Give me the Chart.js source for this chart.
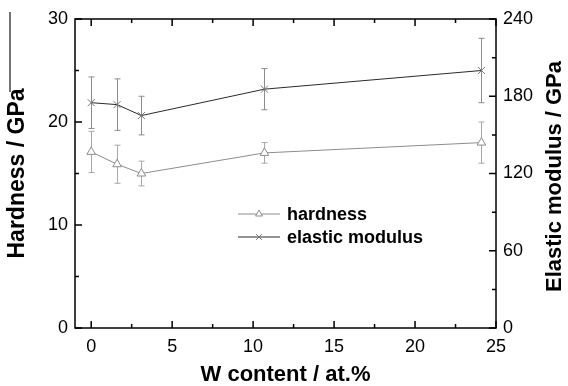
<!DOCTYPE html>
<html>
<head>
<meta charset="utf-8">
<script src="https://cdn.jsdelivr.net/npm/chart.js@4/dist/chart.umd.min.js"></script>
<style>
  html, body { margin: 0; padding: 0; background: #fff; }
  #wrap { width: 568px; height: 386px; }
</style>
</head>
<body>
<div id="wrap"><canvas id="chart"></canvas></div>
<script>
// W content (at.%)
var wContent = [0, 1.6, 3.1, 10.7, 24.1];
// hardness (GPa) and error
var hardness = [17.1, 15.9, 15.0, 17.0, 18.0];
var hardnessErr = [2.0, 1.85, 1.2, 1.0, 2.0];
// elastic modulus (GPa) and error
var modulus = [175, 173.5, 165, 185.5, 200];
var modulusErr = [20, 20, 15, 16, 25];

var xTicks = [0, 5, 10, 15, 20, 25];
var xMinor = [2.5, 7.5, 12.5, 17.5, 22.5];
var yTicks = [0, 10, 20, 30];
var yMinor = [5, 15, 25];
var y2Ticks = [0, 60, 120, 180, 240];
var y2Minor = [30, 90, 150, 210];

var FONT = "'Liberation Sans', Arial, sans-serif";

function toPoints(xs, ys) {
  return xs.map(function (x, i) { return { x: x, y: ys[i] }; });
}

function fixTicks(values) {
  return function (scale) {
    scale.ticks = values.map(function (v) { return { value: v }; });
  };
}

// error bars, drawn under the lines
var errorBars = {
  id: 'errorBars',
  beforeDatasetsDraw: function (chart) {
    var ctx = chart.ctx;
    var xs = chart.scales.x;
    chart.data.datasets.forEach(function (ds) {
      var ys = chart.scales[ds.yAxisID];
      ctx.save();
      ctx.strokeStyle = ds.errColor;
      ctx.lineWidth = 1;
      ds.data.forEach(function (p, i) {
        var px = Math.round(xs.getPixelForValue(p.x)) + 0.5;
        var top = ys.getPixelForValue(p.y + ds.err[i]);
        var bot = ys.getPixelForValue(p.y - ds.err[i]);
        ctx.beginPath();
        ctx.moveTo(px, top); ctx.lineTo(px, bot);
        ctx.moveTo(px - 3, top); ctx.lineTo(px + 3, top);
        ctx.moveTo(px - 3, bot); ctx.lineTo(px + 3, bot);
        ctx.stroke();
      });
      ctx.restore();
    });
  }
};

// box frame with inward ticks, right title, legend
var frame = {
  id: 'frame',
  afterDraw: function (chart) {
    var ctx = chart.ctx;
    var a = chart.chartArea;
    var xs = chart.scales.x, yl = chart.scales.y, yr = chart.scales.y2;
    ctx.save();
    ctx.strokeStyle = '#000';
    ctx.lineWidth = 1.5;
    ctx.strokeRect(a.left, a.top, a.right - a.left, a.bottom - a.top);

    ctx.beginPath();
    function hTick(vals, len) {
      vals.forEach(function (v) {
        var px = xs.getPixelForValue(v);
        ctx.moveTo(px, a.bottom); ctx.lineTo(px, a.bottom - len);
        ctx.moveTo(px, a.top); ctx.lineTo(px, a.top + len);
      });
    }
    function vTick(scale, vals, len, right) {
      vals.forEach(function (v) {
        var py = scale.getPixelForValue(v);
        if (right) { ctx.moveTo(a.right, py); ctx.lineTo(a.right - len, py); }
        else { ctx.moveTo(a.left, py); ctx.lineTo(a.left + len, py); }
      });
    }
    hTick(xTicks, 7); hTick(xMinor, 4);
    vTick(yl, yTicks, 7, false); vTick(yl, yMinor, 4, false);
    vTick(yr, y2Ticks, 7, true); vTick(yr, y2Minor, 4, true);
    ctx.stroke();

    // right axis title, reading bottom to top
    ctx.fillStyle = '#000';
    ctx.font = 'bold 22px ' + FONT;
    ctx.textAlign = 'center';
    ctx.textBaseline = 'middle';
    ctx.translate(555, (a.top + a.bottom) / 2 + 3);
    ctx.rotate(-Math.PI / 2);
    ctx.fillText('Elastic modulus / GPa', 0, 0);
    ctx.restore();

    // legend: line sample with marker
    ctx.save();
    chart.data.datasets.forEach(function (ds, i) {
      var y = 214 + i * 23;
      ctx.strokeStyle = ds.borderColor;
      ctx.lineWidth = 1;
      ctx.beginPath();
      ctx.moveTo(238, y); ctx.lineTo(280, y);
      ctx.stroke();
      ctx.fillStyle = '#fff';
      ctx.strokeStyle = ds.pointBorderColor;
      Chart.helpers.drawPoint(ctx, {
        pointStyle: ds.pointStyle, radius: 4, borderWidth: 1
      }, 259, y);
      ctx.fillStyle = '#000';
      ctx.font = 'bold 18px ' + FONT;
      ctx.textAlign = 'left';
      ctx.textBaseline = 'middle';
      ctx.fillText(ds.label, 287, y + 1);
    });
    ctx.restore();

    // stray vertical rule at the top left of the figure
    ctx.save();
    ctx.strokeStyle = '#444';
    ctx.lineWidth = 1.5;
    ctx.beginPath();
    ctx.moveTo(10, 12); ctx.lineTo(10, 92);
    ctx.stroke();
    ctx.restore();
  }
};

new Chart(document.getElementById('chart'), {
  type: 'line',
  data: {
    datasets: [{
      label: 'hardness',
      data: toPoints(wContent, hardness),
      err: hardnessErr,
      errColor: '#a8a8a8',
      yAxisID: 'y',
      borderColor: '#8c8c8c',
      borderWidth: 1,
      pointStyle: 'triangle',
      pointRadius: 5,
      pointBackgroundColor: '#fff',
      pointBorderColor: '#8c8c8c',
      pointBorderWidth: 1,
      tension: 0
    }, {
      label: 'elastic modulus',
      data: toPoints(wContent, modulus),
      err: modulusErr,
      errColor: '#8c8c8c',
      yAxisID: 'y2',
      borderColor: '#2a2a2a',
      borderWidth: 1,
      pointStyle: 'crossRot',
      pointRadius: 5,
      pointBackgroundColor: '#fff',
      pointBorderColor: '#777',
      pointBorderWidth: 1,
      tension: 0
    }]
  },
  options: {
    responsive: true,
    maintainAspectRatio: false,
    animation: false,
    layout: { padding: { top: 19, left: 0, right: 0, bottom: 0 } },
    plugins: {
      legend: { display: false },
      tooltip: { enabled: false }
    },
    scales: {
      x: {
        type: 'linear',
        position: 'bottom',
        min: -1,
        max: 25,
        afterBuildTicks: fixTicks(xTicks),
        afterFit: function (s) { s.height = 58; },
        grid: { display: false, drawTicks: false },
        border: { display: false },
        ticks: { color: '#000', padding: 8, font: { family: FONT, size: 18 } },
        title: {
          display: true,
          text: 'W content / at.%',
          color: '#000',
          padding: 0,
          font: { family: FONT, size: 22, weight: 'bold', lineHeight: 1 }
        }
      },
      y: {
        type: 'linear',
        position: 'left',
        min: 0,
        max: 30,
        afterBuildTicks: fixTicks(yTicks),
        afterFit: function (s) { s.width = 75; },
        grid: { display: false, drawTicks: false },
        border: { display: false },
        ticks: { color: '#000', padding: 7, font: { family: FONT, size: 18 } },
        title: {
          display: true,
          text: 'Hardness / GPa',
          color: '#000',
          padding: { top: 6, bottom: 0 },
          font: { family: FONT, size: 23, weight: 'bold', lineHeight: 1 }
        }
      },
      y2: {
        type: 'linear',
        position: 'right',
        min: 0,
        max: 240,
        afterBuildTicks: fixTicks(y2Ticks),
        afterFit: function (s) { s.width = 72; },
        grid: { display: false, drawTicks: false },
        border: { display: false },
        ticks: { color: '#000', padding: 7, font: { family: FONT, size: 18 } }
      }
    }
  },
  plugins: [errorBars, frame]
});
</script>
</body>
</html>
